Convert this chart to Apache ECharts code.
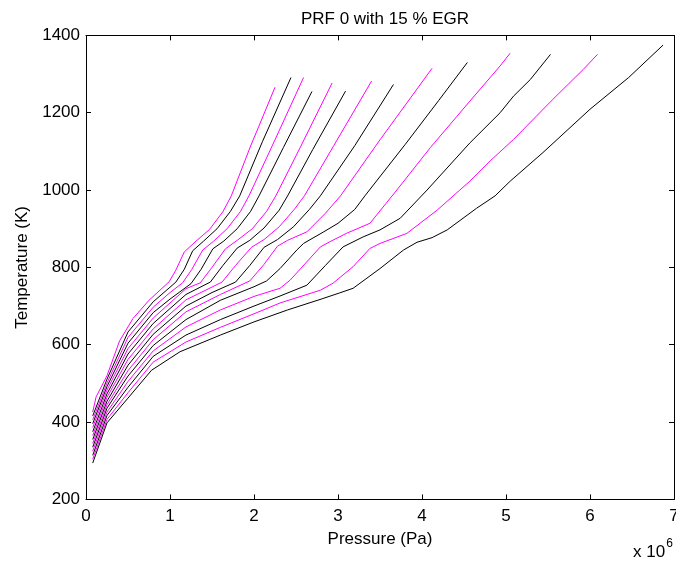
<!DOCTYPE html>
<html><head><meta charset="utf-8">
<script src="https://cdn.jsdelivr.net/npm/echarts@6/dist/echarts.min.js"></script>
<style>html,body{margin:0;padding:0;background:#fff}#c{width:676px;height:561px}</style>
</head><body><div id="c"></div>
<script>
// Tick labels (pressure in units of 1e6 Pa, temperature in K)
const xTicks = [0, 1, 2, 3, 4, 5, 6, 7];
const yTicks = [200, 400, 600, 800, 1000, 1200, 1400];

// Curves: [pressure (x 1e6 Pa), temperature (K)], left-most (hottest start) first
const curve01 = [[0.08,426],[0.12,465],[0.25,520],[0.4,610],[0.56,668],[0.75,715],[0.99,763],[1.07,793],[1.17,840],[1.31,868],[1.47,898],[1.63,944],[1.73,985],[1.96,1114],[2.06,1166],[2.25,1266]];
const curve02 = [[0.08,416],[0.25,511],[0.5,633],[0.8,711],[1.07,762],[1.17,795],[1.27,843],[1.40,868],[1.56,900],[1.72,945],[1.83,985],[2.1,1125],[2.44,1291]];
const curve03 = [[0.08,406],[0.25,501],[0.5,619],[0.8,697],[1.0,735],[1.15,760],[1.26,795],[1.39,845],[1.52,868],[1.68,900],[1.84,945],[1.94,985],[2.25,1130],[2.59,1291]];
const curve04 = [[0.08,396],[0.25,492],[0.5,604],[0.8,683],[1.0,718],[1.25,758],[1.37,795],[1.51,848],[1.64,868],[1.80,900],[1.96,945],[2.06,985],[2.35,1110],[2.69,1255]];
const curve05 = [[0.08,386],[0.25,483],[0.5,590],[0.8,669],[1.19,745],[1.36,760],[1.50,800],[1.66,848],[1.80,870],[1.98,900],[2.15,945],[2.26,985],[2.55,1110],[2.93,1277]];
const curve06 = [[0.08,375],[0.25,473],[0.5,576],[0.8,655],[1.19,730],[1.48,762],[1.63,805],[1.80,850],[1.95,870],[2.12,902],[2.30,948],[2.40,985],[2.70,1105],[3.09,1256]];
const curve07 = [[0.08,365],[0.25,464],[0.5,562],[0.8,641],[1.19,716],[1.62,762],[1.78,805],[1.97,852],[2.12,872],[2.30,905],[2.48,950],[2.60,985],[2.95,1115],[3.40,1282]];
const curve08 = [[0.08,355],[0.25,454],[0.5,547],[0.8,627],[1.19,700],[1.5,735],[1.78,762],[1.95,805],[2.12,852],[2.28,872],[2.47,905],[2.66,950],[2.79,985],[3.2,1115],[3.66,1273]];
const curve09 = [[0.08,345],[0.25,445],[0.5,533],[0.8,613],[1.19,685],[1.6,730],[1.95,765],[2.12,808],[2.28,855],[2.40,870],[2.63,892],[2.85,940],[3.03,985],[3.5,1130],[4.12,1315]];
const curve10 = [[0.08,335],[0.25,436],[0.5,519],[0.8,598],[1.19,665],[1.6,715],[2.0,750],[2.15,765],[2.31,797],[2.51,845],[2.59,862],[2.83,892],[3.0,914],[3.2,950],[3.32,985],[3.8,1118],[4.2,1232],[4.54,1330]];
const curve11 = [[0.08,325],[0.25,426],[0.5,505],[0.8,584],[1.19,646],[1.6,690],[2.0,725],[2.31,746],[2.43,767],[2.79,853],[2.90,866],[3.10,888],[3.38,914],[3.70,1000],[4.1,1110],[4.57,1230],[4.93,1321],[5.05,1354]];
const curve12 = [[0.08,314],[0.25,417],[0.5,490],[0.8,570],[1.19,625],[1.6,665],[2.0,700],[2.31,726],[2.63,754],[2.85,805],[3.06,853],[3.30,879],[3.5,897],[3.74,927],[4.06,1000],[4.57,1122],[4.93,1200],[5.09,1243],[5.29,1286],[5.53,1351]];
const curve13 = [[0.08,304],[0.25,407],[0.5,476],[0.8,555],[1.19,607],[1.6,645],[2.0,680],[2.31,708],[2.79,741],[2.94,759],[3.18,802],[3.38,849],[3.5,862],[3.82,888],[4.18,948],[4.45,1000],[4.57,1023],[4.81,1075],[5.09,1131],[5.56,1235],[5.92,1312],[6.09,1351]];
const curve14 = [[0.08,294],[0.25,398],[0.5,462],[0.78,534],[1.12,582],[1.6,625],[2.0,659],[2.4,690],[2.8,718],[3.02,734],[3.18,746],[3.5,797],[3.78,845],[3.94,865],[4.12,877],[4.3,897],[4.65,953],[4.87,985],[5.05,1023],[5.44,1097],[6.0,1209],[6.46,1291],[6.87,1375]];

const curves = [curve01, curve02, curve03, curve04, curve05, curve06, curve07, curve08, curve09, curve10, curve11, curve12, curve13, curve14];
const colors = ['#ff00ff', '#000000'];

const FONT = 'Liberation Sans, Arial, Helvetica, sans-serif';
const chart = echarts.init(document.getElementById('c'), null, {renderer: 'canvas'});

const axisCommon = {
  type: 'value',
  axisLine: {show: true, onZero: false, lineStyle: {color: '#000', width: 1}},
  axisTick: {show: true, inside: true, length: 5, lineStyle: {color: '#000', width: 1}},
  splitLine: {show: false}
};
const plain = v => String(v);

chart.setOption({
  animation: false,
  backgroundColor: '#ffffff',
  title: {
    text: 'PRF 0 with 15 % EGR',
    left: 380, top: 6, textAlign: 'center',
    textStyle: {fontFamily: FONT, fontSize: 17, fontWeight: 'normal', color: '#000'}
  },
  grid: {left: 86, right: 2, top: 35.4, bottom: 61.6, containLabel: false, outerBoundsMode: 'none'},
  xAxis: [
    Object.assign({}, axisCommon, {
      position: 'bottom', min: xTicks[0], max: xTicks[xTicks.length - 1], interval: xTicks[1] - xTicks[0],
      axisLabel: {color: '#000', fontFamily: FONT, fontSize: 17, margin: 8, formatter: plain},
      name: 'Pressure (Pa)', nameLocation: 'middle', nameGap: 31,
      nameTextStyle: {color: '#000', fontFamily: FONT, fontSize: 17}
    }),
    Object.assign({}, axisCommon, {
      position: 'top', min: xTicks[0], max: xTicks[xTicks.length - 1], interval: xTicks[1] - xTicks[0],
      axisLabel: {show: false}
    })
  ],
  yAxis: [
    Object.assign({}, axisCommon, {
      position: 'left', min: yTicks[0], max: yTicks[yTicks.length - 1], interval: yTicks[1] - yTicks[0],
      axisLabel: {color: '#000', fontFamily: FONT, fontSize: 17, margin: 6, formatter: plain},
      name: 'Temperature (K)', nameLocation: 'middle', nameGap: 52, nameRotate: 90,
      nameTextStyle: {color: '#000', fontFamily: FONT, fontSize: 17}
    }),
    Object.assign({}, axisCommon, {
      position: 'right', min: yTicks[0], max: yTicks[yTicks.length - 1], interval: yTicks[1] - yTicks[0],
      axisLabel: {show: false}
    })
  ],
  graphic: [{
    type: 'text', left: 633, top: 538,
    style: {
      text: '{b|x 10}{s|6}',
      rich: {
        b: {fontFamily: FONT, fontSize: 17, fill: '#000', padding: [8, 0, 0, 0]},
        s: {fontFamily: FONT, fontSize: 12, fill: '#000', padding: [0, 0, 8, 1]}
      }
    }
  }],
  series: curves.map((c, i) => ({
    type: 'line',
    data: c,
    xAxisIndex: 0, yAxisIndex: 0,
    showSymbol: false, symbol: 'none',
    smooth: false,
    lineStyle: {color: colors[i % 2], width: 1},
    silent: true
  }))
});
</script>
</body></html>
